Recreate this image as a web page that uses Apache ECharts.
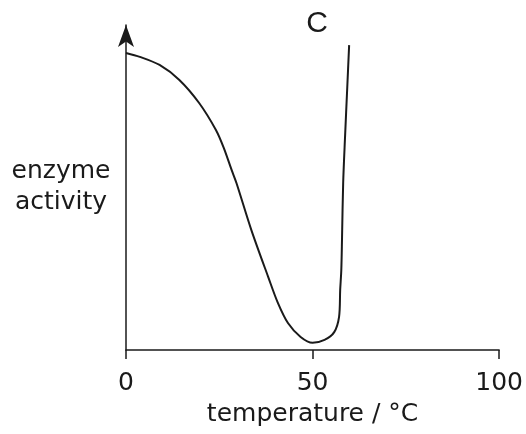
<!DOCTYPE html>
<html>
<head>
<meta charset="utf-8">
<script src="https://cdn.jsdelivr.net/npm/echarts@6/dist/echarts.min.js"></script>
<style>
  html, body { margin: 0; padding: 0; background: #fff; }
  #chart { width: 526px; height: 434px; }
</style>
</head>
<body>
<div id="chart"></div>
<script>
// Enzyme activity against temperature (curve C)
const temperature = [0, 3.7, 9.0, 14.3, 19.6, 24.1, 26.2, 28.3, 29.6, 33.6, 38.1, 40.7, 43.4, 46.8, 50.0, 53.2, 55.8, 57.1, 57.4, 57.7, 57.9, 58.2, 58.7, 59.3, 59.8];
const activity    = [91.4, 90.2, 87.7, 83.1, 76.0, 67.7, 62.2, 55.4, 51.4, 36.9, 22.5, 14.5, 8.3, 4.0, 2.2, 3.1, 5.5, 10.2, 18.5, 24.6, 34.8, 51.4, 65.5, 80.9, 93.8];
const xTicks = [0, 50, 100];

const ink = '#1a1a1a';
const font = 'DejaVu Sans, Liberation Sans, sans-serif';

const chart = echarts.init(document.getElementById('chart'), null, { renderer: 'canvas' });
chart.setOption({
  backgroundColor: '#ffffff',
  animation: false,
  grid: { left: 126, right: 22, top: 25, bottom: 84 },
  xAxis: {
    type: 'value',
    min: 0,
    max: 100,
    interval: 50,
    name: 'temperature / °C',
    nameLocation: 'middle',
    nameGap: 52,
    nameTextStyle: { fontFamily: font, fontSize: 25, color: ink },
    axisLine: { show: true, onZero: false, lineStyle: { color: ink, width: 1.5 } },
    axisTick: { show: true, length: 9, lineStyle: { color: ink, width: 1.5 } },
    axisLabel: {
      fontFamily: font, fontSize: 25, color: ink, margin: 21,
      formatter: v => (xTicks.includes(v) ? String(v) : '')
    },
    splitLine: { show: false }
  },
  yAxis: {
    type: 'value',
    min: 0,
    max: 100,
    axisLine: {
      show: true, onZero: false,
      symbol: ['none', 'arrow'],
      symbolSize: [12, 22],
      lineStyle: { color: ink, width: 1.5 }
    },
    axisTick: { show: false },
    axisLabel: { show: false },
    splitLine: { show: false }
  },
  graphic: [{
    type: 'text',
    x: 61,
    y: 156,
    style: {
      text: 'enzyme\nactivity',
      fontFamily: font,
      fontSize: 25,
      lineHeight: 31,
      fill: ink,
      align: 'center',
      verticalAlign: 'top'
    }
  }, {
    type: 'text',
    x: 317,
    y: 24,
    style: {
      text: 'C',
      fontFamily: 'Liberation Sans, Arial, sans-serif',
      fontSize: 30,
      fill: ink,
      align: 'center',
      verticalAlign: 'middle'
    }
  }],
  series: [{
    type: 'line',
    data: temperature.map((t, i) => [t, activity[i]]),
    smooth: 0.3,
    showSymbol: false,
    lineStyle: { color: ink, width: 2 }
  }]
});
</script>
</body>
</html>
